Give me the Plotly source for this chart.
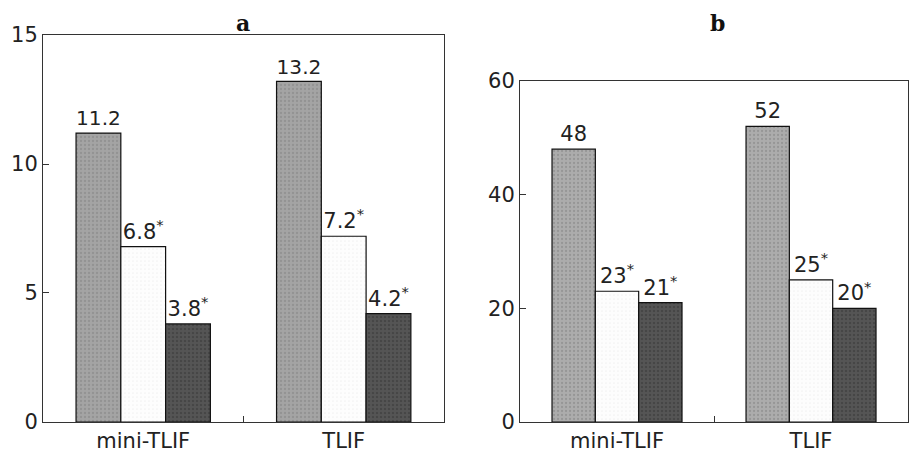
import plotly.graph_objects as go

categories = ["mini-TLIF", "TLIF"]

# Panel a values
a_s1 = [11.2, 13.2]
a_s2 = [6.8, 7.2]
a_s3 = [3.8, 4.2]
a_ticks = [0, 5, 10, 15]

# Panel b values
b_s1 = [48, 52]
b_s2 = [23, 25]
b_s3 = [21, 20]
b_ticks = [0, 20, 40, 60]

significant = [False, True, True]

FONT = "DejaVu Sans"
TXT = "#222222"

styles = [
    dict(color="#a4a4a4", fg="#808080", sol=0.25),
    dict(color="#fdfdfd", fg="#e6e6e6", sol=0.15),
    dict(color="#555555", fg="#363636", sol=0.3),
]


def lbl(values, fmt, star):
    out = []
    for v in values:
        s = format(v, fmt)
        if star:
            s += "<sup>*</sup>"
        out.append(s)
    return out


fig = go.Figure()

panels = [
    ("x", "y", [a_s1, a_s2, a_s3], ".1f"),
    ("x2", "y2", [b_s1, b_s2, b_s3], "d"),
]

for xa, ya, series, fmt in panels:
    for i, vals in enumerate(series):
        st = styles[i]
        color = st["color"]
        if xa == "x2" and i == 0:
            color = "#acacac"
        fig.add_trace(go.Bar(
            x=categories, y=vals, xaxis=xa, yaxis=ya,
            text=lbl(vals, fmt, significant[i]),
            textposition="outside",
            textfont=dict(family=FONT, size=21, color=TXT),
            cliponaxis=False,
            marker=dict(color=color,
                        line=dict(color="#111111", width=1.2),
                        pattern=dict(shape=".", fgcolor=st["fg"], size=4, solidity=st["sol"])),
            offsetgroup=str(i),
            showlegend=False,
            hoverinfo="skip",
        ))

axis_common = dict(
    showline=True, linecolor="#333333", linewidth=1, mirror=True,
    ticks="inside", ticklen=6, tickcolor="#333333",
    showgrid=False, zeroline=False, automargin=False,
)
yfont = dict(family=FONT, size=21, color=TXT)
xfont = dict(family=FONT, size=21, color=TXT)

fig.update_layout(
    width=913, height=445,
    margin=dict(l=0, r=0, t=0, b=0),
    paper_bgcolor="white", plot_bgcolor="white",
    barmode="group", bargap=0.33, bargroupgap=0,
    xaxis=dict(domain=[0.0383, 0.4775], anchor="y", tickson="boundaries", tickfont=xfont, **axis_common),
    yaxis=dict(domain=[0.0697, 0.9393], anchor="x", range=[0, 15], tickvals=a_ticks, tickfont=yfont, **axis_common),
    xaxis2=dict(domain=[0.5608, 0.9858], anchor="y2", tickson="boundaries", tickfont=xfont, **axis_common),
    yaxis2=dict(domain=[0.0697, 0.8360], anchor="x2", range=[0, 60], tickvals=b_ticks, tickfont=yfont, **axis_common),
    annotations=[
        dict(text="<b>a</b>", x=0.2574, y=0.9663, xref="paper", yref="paper", showarrow=False,
             xanchor="center", yanchor="middle",
             font=dict(family="DejaVu Serif", size=22, color="#111111")),
        dict(text="<b>b</b>", x=0.7766, y=0.9663, xref="paper", yref="paper", showarrow=False,
             xanchor="center", yanchor="middle",
             font=dict(family="DejaVu Serif", size=22, color="#111111")),
    ],
)

fig.write_html("out.html")
